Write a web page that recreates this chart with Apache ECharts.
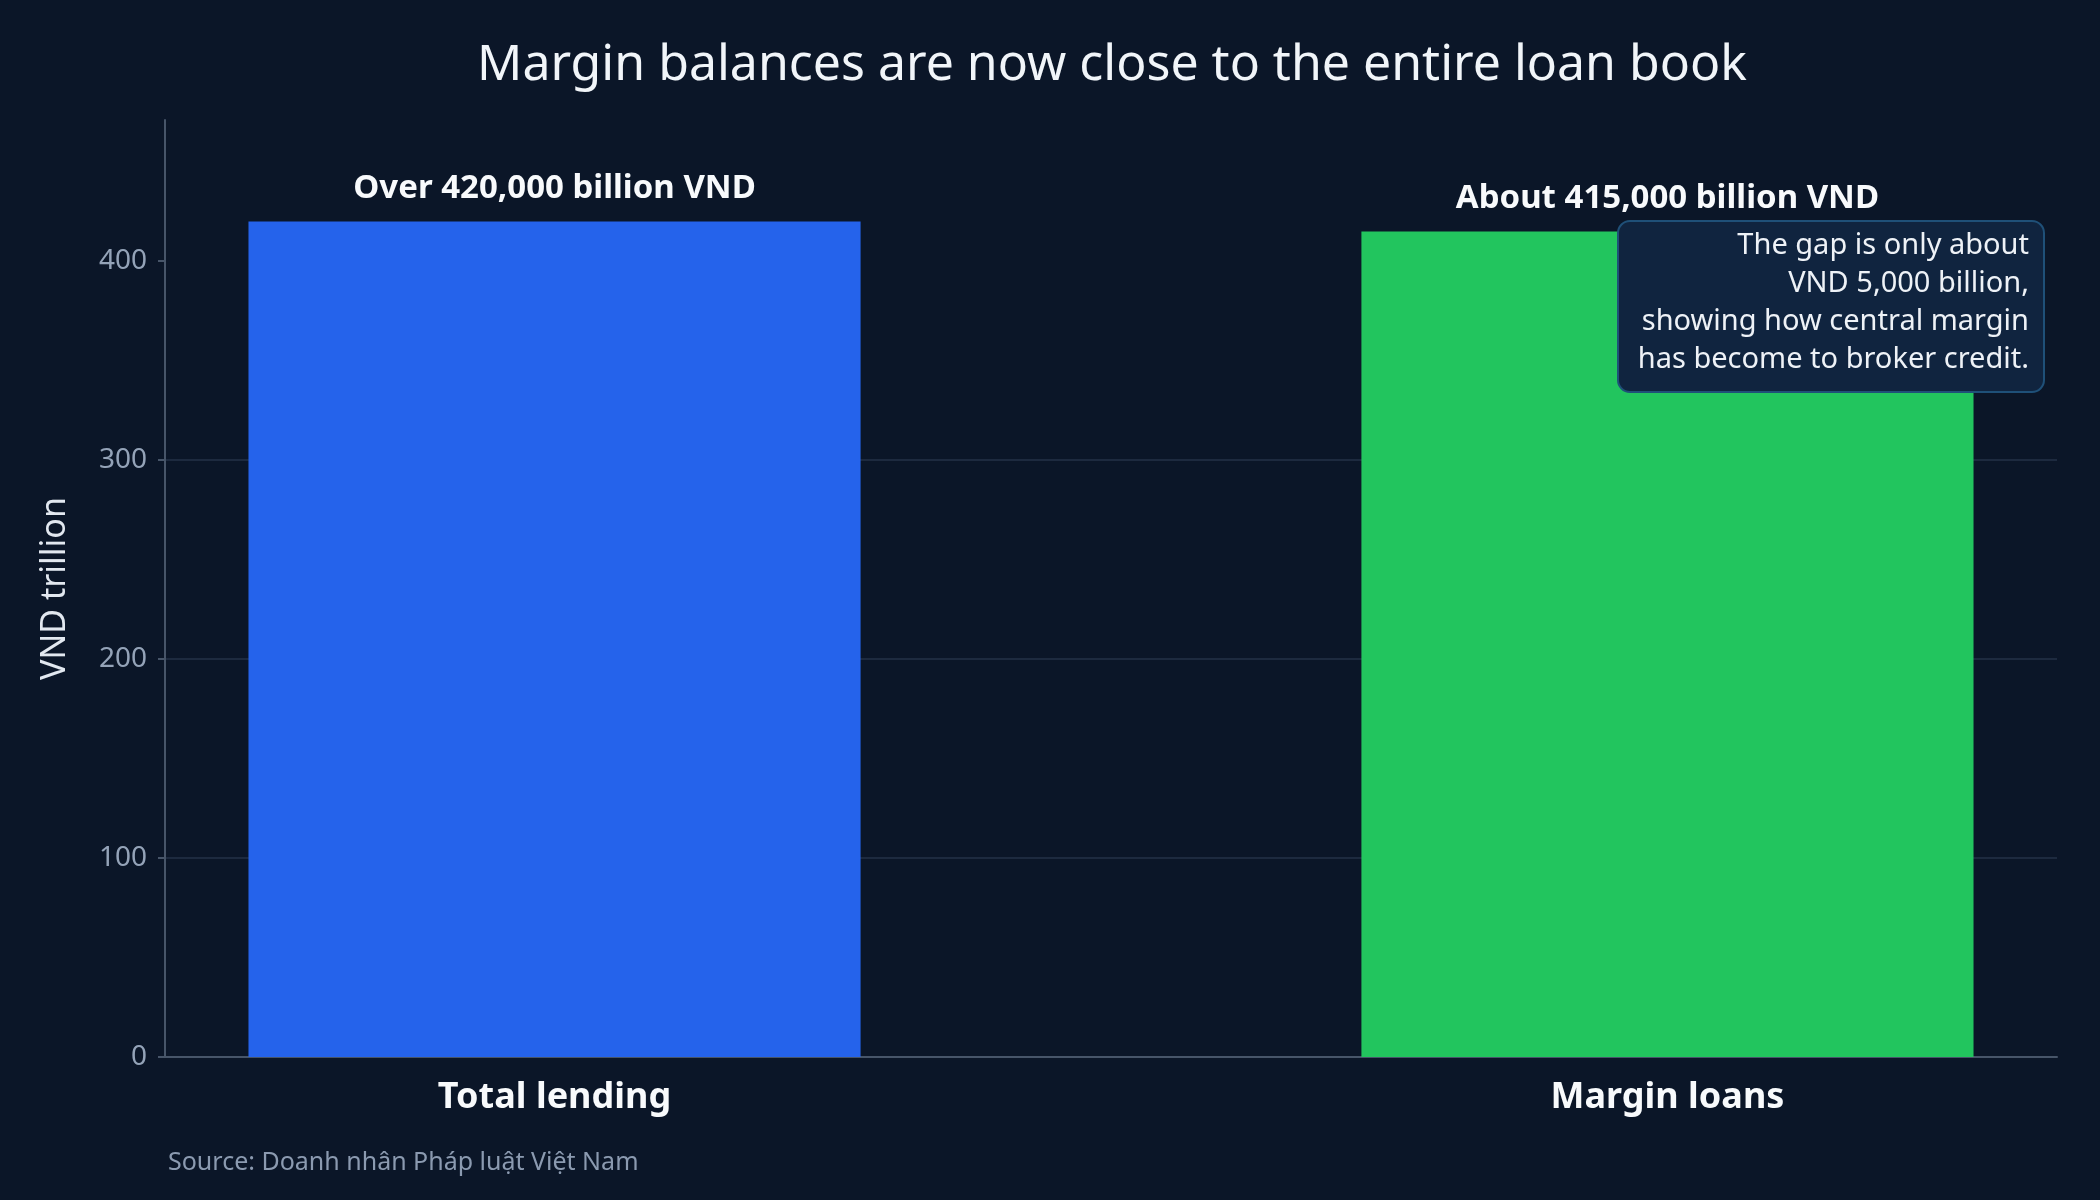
<!DOCTYPE html>
<html>
<head>
<meta charset="utf-8">
<style>
  html, body { margin: 0; padding: 0; background: #0b1628; }
  #chart { width: 2100px; height: 1200px; }
</style>
<script src="https://cdn.jsdelivr.net/npm/echarts@6/dist/echarts.min.js"></script>
</head>
<body>
<div id="chart"></div>
<script>
const categories = ['Total lending', 'Margin loans'];
const values = [420, 415];
const barLabels = ['Over 420,000 billion VND', 'About 415,000 billion VND'];
const barColors = ['#2563eb', '#22c55e'];
const yTicks = [0, 100, 200, 300, 400];
const titleText = 'Margin balances are now close to the entire loan book';
const yAxisName = 'VND trillion';
const noteText = 'The gap is only about\nVND 5,000 billion,\nshowing how central margin\nhas become to broker credit.';
const sourceText = 'Source: Doanh nhân Pháp luật Việt Nam';

const FONT = '"Noto Sans", "Open Sans", sans-serif';
const chart = echarts.init(document.getElementById('chart'), null, { renderer: 'canvas' });

const catIdx = categories.map((c, i) => i);

chart.setOption({
  backgroundColor: '#0b1628',
  animation: false,
  title: {
    text: titleText,
    left: 1107,
    textAlign: 'center',
    top: 36,
    textStyle: { color: '#f1f5f9', fontSize: 50, fontWeight: 'normal', fontFamily: FONT }
  },
  grid: { left: 165, right: 43, top: 120, bottom: 143 },
  xAxis: {
    type: 'value',
    min: -0.35,
    max: 1.35,
    splitLine: { show: false },
    axisTick: { show: false },
    axisLine: { show: true, onZero: false, lineStyle: { color: '#475569', width: 2 } },
    axisLabel: {
      customValues: catIdx,
      margin: 23,
      color: '#f8fafc',
      fontSize: 36,
      fontWeight: 'bold',
      fontFamily: FONT,
      formatter: v => categories[Math.round(v)] || ''
    }
  },
  yAxis: {
    type: 'value',
    min: 0,
    max: 471,
    interval: 100,
    name: yAxisName,
    nameLocation: 'middle',
    nameRotate: 90,
    nameGap: 93,
    nameTextStyle: { color: '#e2e8f0', fontSize: 34, fontFamily: FONT },
    axisLine: { show: true, onZero: false, lineStyle: { color: '#475569', width: 2 } },
    axisTick: { show: true, length: 7, customValues: yTicks, lineStyle: { color: '#475569', width: 2 } },
    axisLabel: {
      customValues: yTicks,
      margin: 18,
      color: '#94a3b8',
      fontSize: 28,
      fontFamily: FONT
    },
    splitLine: {
      show: true,
      showMinLine: false,
      showMaxLine: false,
      lineStyle: { color: '#243247', width: 1.5 }
    }
  },
  series: [{
    type: 'bar',
    barWidth: '55%',
    z: 2,
    data: categories.map((c, i) => ({
      value: [i, values[i]],
      itemStyle: { color: barColors[i] },
      label: { formatter: barLabels[i] }
    })),
    label: {
      show: true,
      position: 'top',
      distance: 16,
      color: '#f8fafc',
      fontSize: 33,
      fontWeight: 'bold',
      fontFamily: FONT
    }
  }],
  graphic: [
    {
      type: 'group',
      right: 55,
      top: 220,
      z: 100,
      children: [
        {
          type: 'rect',
          z: 100,
          shape: { x: 0, y: 0, width: 426, height: 171, r: 12 },
          style: { fill: '#10243f', stroke: '#1f5078', lineWidth: 2 }
        },
        {
          type: 'text',
          z: 101,
          x: 411,
          y: 6,
          style: {
            text: noteText,
            align: 'right',
            verticalAlign: 'top',
            fill: '#eef2f7',
            font: '29px ' + FONT,
            lineHeight: 38
          }
        }
      ]
    },
    {
      type: 'text',
      left: 168,
      top: 1150,
      z: 100,
      style: {
        text: sourceText,
        fill: '#8b9ab0',
        font: '25px ' + FONT
      }
    }
  ]
});
</script>
</body>
</html>
